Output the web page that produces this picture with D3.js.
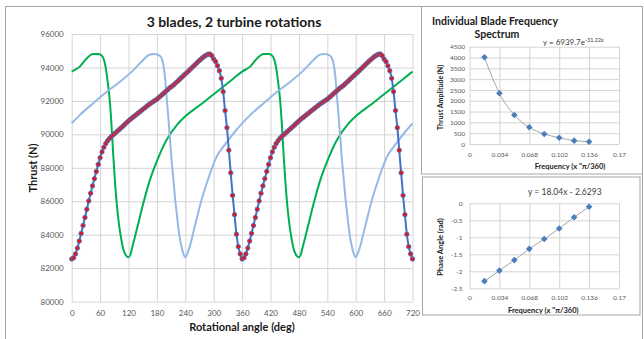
<!DOCTYPE html>
<html>
<head>
<meta charset="utf-8">
<script src="https://cdn.jsdelivr.net/npm/d3@7"></script>
<style>
  body { margin: 0; background: #fff; }
  svg text { font-family: Lato, "Open Sans", sans-serif; }
</style>
</head>
<body>
<svg id="chart" width="644" height="339"></svg>
<script>
// blade 1 (dark blue line + red markers), one turn, every 4 deg
const blade1Angle = d3.range(0, 361, 4);
const blade1Thrust = [
  82550, 82620, 82850, 83200, 83620, 84080, 84550, 85030, 85520, 86020,
  86480, 86920, 87350, 87780, 88200, 88600, 88950, 89230, 89450, 89620,
  89760, 89880, 89980, 90080, 90180, 90280, 90380, 90480, 90590, 90700,
  90800, 90900, 90990, 91080, 91170, 91260, 91350, 91440, 91530, 91620,
  91710, 91800, 91880, 91950, 92030, 92100, 92200, 92300, 92400, 92500,
  92600, 92700, 92800, 92880, 92970, 93080, 93180, 93290, 93400, 93500,
  93610, 93710, 93820, 93930, 94040, 94150, 94260, 94370, 94470, 94570,
  94660, 94730, 94790, 94800, 94700, 94500, 94350, 94100, 93800, 93350,
  92550, 91420, 90400, 89050, 87700, 86350, 85200, 84030, 83285, 82850,
  82550
];
// blade 2 (green), one turn
const blade2Angle = [0, 17, 32, 45, 56, 62, 67, 70, 73, 76, 80, 84, 88, 92, 96, 100, 104, 108, 112, 116,
  120, 124, 128, 133, 140, 151, 165, 180, 200, 222, 243, 271, 300, 320, 340, 360];
const blade2Thrust = [93750, 94050, 94550, 94800, 94810, 94740, 94550, 94250, 93800, 93150, 92150, 90600,
  88650, 86950, 85600, 84600, 83850, 83250, 82900, 82720, 82650, 82800, 83250, 83800, 84600, 85850,
  87250, 88400, 89650, 90550, 91150, 91750, 92400, 92850, 93300, 93750];
// blade 3 (light blue), one turn
const blade3Angle = [0, 17, 45, 74, 102, 127, 151, 165, 175, 185, 190, 194, 197, 200, 204, 208, 211, 215,
  218, 222, 225, 229, 232, 236, 240, 244, 250, 257, 264, 274, 285, 296, 306, 320, 332, 346, 360];
const blade3Thrust = [90660, 91150, 91850, 92550, 93150, 93750, 94450, 94780, 94810, 94720, 94550, 94100,
  93450, 92400, 91050, 89600, 88450, 87250, 86270, 85250, 84480, 83700, 83280, 82850, 82650, 82850,
  83350, 84150, 84950, 86050, 87050, 87950, 88650, 89250, 89700, 90200, 90660];

const angleTicks = d3.range(0, 721, 60);
const thrustTicks = d3.range(80000, 96001, 2000);

// insets
const freq = [0.017, 0.034, 0.051, 0.068, 0.085, 0.102, 0.119, 0.136];
const amplitude = [4010, 2345, 1340, 772, 462, 290, 155, 105];
const phase = [-2.29, -1.98, -1.67, -1.34, -1.05, -0.74, -0.41, -0.10];
const freqTicks = [0, 0.034, 0.068, 0.102, 0.136, 0.17];
const ampTicks = d3.range(0, 4501, 500);
const phaseTicks = [0, -0.5, -1, -1.5, -2, -2.5];

const svg = d3.select('#chart');
const tickColor = '#595959', gridColor = '#d4d4d4';
const plain = d => String(d);

// two turbine rotations: same turn repeated
function twoTurns(angles, values) {
  const pts = angles.map((a, i) => [a, values[i]]);
  return pts.concat(pts.slice(1).map(p => [p[0] + 360, p[1]]));
}

// frame of main chart
svg.append('rect')
  .attr('x', 5.5).attr('y', 6.5).attr('width', 637).attr('height', 345)
  .attr('fill', '#fff').attr('stroke', '#a6a6a6');

const x = d3.scaleLinear().domain([0, 720]).range([71.7, 412.5]);
const y = d3.scaleLinear().domain([80000, 96000]).range([301.6, 34]);

function styleAxis(g, size) {
  g.select('.domain').remove();
  g.selectAll('.tick line').attr('stroke', gridColor);
  g.selectAll('.tick text').attr('fill', tickColor).style('font-size', size + 'px');
}

svg.append('g')
  .attr('transform', `translate(${x(0)},0)`)
  .call(d3.axisLeft(y).tickValues(thrustTicks).tickFormat(plain)
    .tickSize(-(x(720) - x(0))).tickPadding(8))
  .call(g => styleAxis(g, 8));

svg.append('g')
  .attr('transform', `translate(0,${y(80000)})`)
  .call(d3.axisBottom(x).tickValues(angleTicks).tickFormat(plain)
    .tickSize(-(y(80000) - y(96000))).tickPadding(8.3))
  .call(g => styleAxis(g, 8));

const line = d3.line().x(d => x(d[0])).y(d => y(d[1])).curve(d3.curveMonotoneX);

svg.append('path')
  .datum(twoTurns(blade2Angle, blade2Thrust))
  .attr('d', line).attr('fill', 'none').attr('stroke', '#00b050').attr('stroke-width', 2);

svg.append('path')
  .datum(twoTurns(blade3Angle, blade3Thrust))
  .attr('d', line).attr('fill', 'none').attr('stroke', '#95b9e6').attr('stroke-width', 2);

const blade1 = twoTurns(blade1Angle, blade1Thrust);
svg.append('path')
  .datum(blade1)
  .attr('d', line).attr('fill', 'none').attr('stroke', '#4472c4').attr('stroke-width', 2);

svg.append('g')
  .selectAll('circle')
  .data(blade1)
  .enter()
  .append('circle')
  .attr('cx', d => x(d[0]))
  .attr('cy', d => y(d[1]))
  .attr('r', 2.2)
  .attr('fill', '#e3121c')
  .attr('stroke', '#4f70b4')
  .attr('stroke-width', 0.9);

// titles
svg.append('text')
  .attr('x', 234).attr('y', 26.5)
  .attr('text-anchor', 'middle')
  .style('font-size', '14px').style('font-weight', 'bold').attr('fill', '#1a1a1a')
  .text('3 blades, 2 turbine rotations');

svg.append('text')
  .attr('transform', 'translate(37,168) rotate(-90)')
  .attr('text-anchor', 'middle')
  .style('font-size', '11px').style('font-weight', 'bold').attr('fill', '#1a1a1a')
  .text('Thrust (N)');

svg.append('text')
  .attr('x', 242).attr('y', 331)
  .attr('text-anchor', 'middle')
  .style('font-size', '11px').style('font-weight', 'bold').attr('fill', '#1a1a1a')
  .text('Rotational angle (deg)');

// ---- inset 1: amplitude spectrum
svg.append('rect')
  .attr('x', 421.5).attr('y', 6.5).attr('width', 221).attr('height', 167.5)
  .attr('fill', '#fff').attr('stroke', '#a6a6a6');

const fx = d3.scaleLinear().domain([0, 0.17]).range([469.5, 619]);
const ay = d3.scaleLinear().domain([0, 4500]).range([144, 46.7]);

svg.append('g')
  .attr('transform', `translate(${fx(0)},0)`)
  .call(d3.axisLeft(ay).tickValues(ampTicks).tickFormat(plain)
    .tickSize(-(fx(0.17) - fx(0))).tickPadding(4.5))
  .call(g => styleAxis(g, 6.5));

svg.append('g')
  .attr('transform', `translate(0,${ay(0)})`)
  .call(d3.axisBottom(fx).tickValues(freqTicks).tickFormat(plain)
    .tickSize(-(ay(0) - ay(4500))).tickPadding(8.7))
  .call(g => styleAxis(g, 6.5));

const ampPts = freq.map((f, i) => [f, amplitude[i]]);
svg.append('path')
  .datum(ampPts)
  .attr('d', d3.line().x(d => fx(d[0])).y(d => ay(d[1])).curve(d3.curveMonotoneX))
  .attr('fill', 'none').attr('stroke', '#a6a6a6').attr('stroke-width', 1);

const diamond = d3.symbol().type(d3.symbolSquare).size(22);
svg.append('g')
  .selectAll('path')
  .data(ampPts)
  .enter()
  .append('path')
  .attr('d', diamond)
  .attr('transform', d => `translate(${fx(d[0])},${ay(d[1])}) rotate(45)`)
  .attr('fill', '#4a7ebb');

svg.append('text')
  .attr('x', 432).attr('y', 24.5)
  .style('font-size', '10.5px').style('font-weight', 'bold').attr('fill', '#1a1a1a')
  .text('Individual Blade Frequency');
svg.append('text')
  .attr('x', 497).attr('y', 38).attr('text-anchor', 'middle')
  .style('font-size', '10.5px').style('font-weight', 'bold').attr('fill', '#1a1a1a')
  .text('Spectrum');

const eq1 = svg.append('text')
  .attr('x', 543).attr('y', 44.5)
  .style('font-size', '8px').attr('fill', '#404040');
eq1.append('tspan').text('y = 6939.7e');
eq1.append('tspan').attr('dy', -3).style('font-size', '5.5px').text('-31.22x');

svg.append('text')
  .attr('transform', 'translate(442.5,97.5) rotate(-90)')
  .attr('text-anchor', 'middle')
  .style('font-size', '7px').style('font-weight', 'bold').attr('fill', '#1a1a1a')
  .text('Thrust Amplitude (N)');

svg.append('text')
  .attr('x', 570).attr('y', 168.5).attr('text-anchor', 'middle')
  .style('font-size', '7.5px').style('font-weight', 'bold').attr('fill', '#1a1a1a')
  .text('Frequency (x "\u03c0/360)');

// ---- inset 2: phase
svg.append('rect')
  .attr('x', 422.5).attr('y', 177).attr('width', 217.5).attr('height', 138)
  .attr('fill', '#fff').attr('stroke', '#a6a6a6');

const py = d3.scaleLinear().domain([-2.5, 0]).range([288.3, 203.3]);

svg.append('g')
  .attr('transform', `translate(${fx(0)},0)`)
  .call(d3.axisLeft(py).tickValues(phaseTicks).tickFormat(plain)
    .tickSize(-(fx(0.17) - fx(0))).tickPadding(7))
  .call(g => styleAxis(g, 6.5));

svg.append('g')
  .attr('transform', `translate(0,${py(-2.5)})`)
  .call(d3.axisBottom(fx).tickValues(freqTicks).tickFormat(plain)
    .tickSize(-(py(-2.5) - py(0))).tickPadding(7.1))
  .call(g => styleAxis(g, 6.5));

const phasePts = freq.map((f, i) => [f, phase[i]]);
svg.append('path')
  .datum(phasePts)
  .attr('d', d3.line().x(d => fx(d[0])).y(d => py(d[1])))
  .attr('fill', 'none').attr('stroke', '#a6a6a6').attr('stroke-width', 1);

svg.append('g')
  .selectAll('path')
  .data(phasePts)
  .enter()
  .append('path')
  .attr('d', diamond)
  .attr('transform', d => `translate(${fx(d[0])},${py(d[1])}) rotate(45)`)
  .attr('fill', '#4a7ebb');

svg.append('text')
  .attr('x', 528).attr('y', 195)
  .style('font-size', '8.5px').attr('fill', '#404040')
  .text('y = 18.04x - 2.6293');

svg.append('text')
  .attr('transform', 'translate(442.5,247) rotate(-90)')
  .attr('text-anchor', 'middle')
  .style('font-size', '7.5px').style('font-weight', 'bold').attr('fill', '#1a1a1a')
  .text('Phase Angle (rad)');

svg.append('text')
  .attr('x', 543.3).attr('y', 312.5).attr('text-anchor', 'middle')
  .style('font-size', '7.5px').style('font-weight', 'bold').attr('fill', '#1a1a1a')
  .text('Frequency (x "\u03c0/360)');
</script>
</body>
</html>
